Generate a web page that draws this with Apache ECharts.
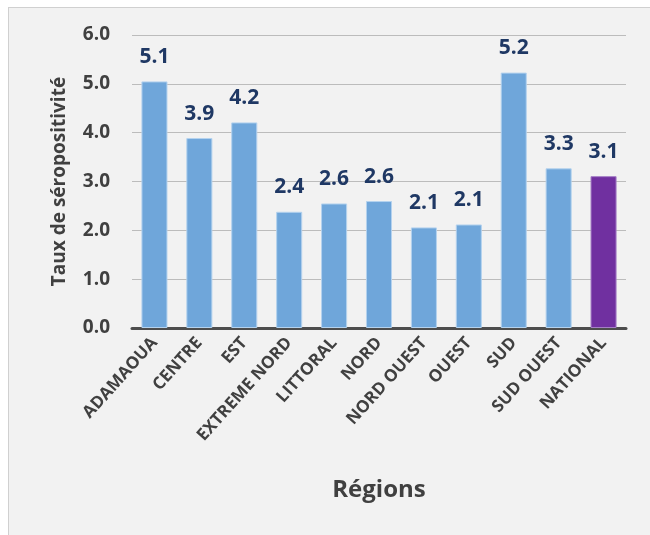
<!DOCTYPE html>
<html>
<head>
<meta charset="utf-8">
<script src="https://cdn.jsdelivr.net/npm/echarts@6/dist/echarts.min.js"></script>
<style>
  html, body { margin: 0; padding: 0; background: #fff; overflow: hidden; }
  .box {
    position: absolute;
    left: 8px;
    top: 7px;
    width: 660px;
    height: 540px;
    background: #f2f2f2;
    border: 1px solid #d0d0d0;
  }
  #chart { width: 642px; height: 528px; }
</style>
</head>
<body>
<div class="box"><div id="chart"></div></div>
<script>
// régions
const regions = ['ADAMAOUA', 'CENTRE', 'EST', 'EXTREME NORD', 'LITTORAL', 'NORD', 'NORD OUEST', 'OUEST', 'SUD', 'SUD OUEST', 'NATIONAL']
// taux de séropositivité (hauteur des barres)
const taux = [5.05, 3.89, 4.21, 2.38, 2.55, 2.60, 2.06, 2.12, 5.23, 3.27, 3.11]
// étiquettes affichées au-dessus des barres
const etiquettes = ['5.1', '3.9', '4.2', '2.4', '2.6', '2.6', '2.1', '2.1', '5.2', '3.3', '3.1']

const font = '"Open Sans", sans-serif'
const grisTexte = '#404040'

let myChart = echarts.init(document.getElementById('chart'))
myChart.setOption({
  backgroundColor: '#f2f2f2',
  animation: false,
  grid: {
    left: 123,
    right: 25,
    top: 27,
    bottom: 208
  },
  xAxis: {
    type: 'category',
    data: regions,
    name: 'Régions',
    nameLocation: 'middle',
    nameGap: 150,
    nameTextStyle: {
      color: grisTexte,
      fontFamily: font,
      fontWeight: 'bold',
      fontSize: 24
    },
    axisTick: { show: false },
    axisLine: {
      lineStyle: { color: '#4d4d4d', width: 3 }
    },
    axisLabel: {
      interval: 0,
      rotate: 48,
      margin: 12,
      color: grisTexte,
      fontFamily: font,
      fontWeight: 'bold',
      fontSize: 17
    }
  },
  yAxis: {
    type: 'value',
    min: 0,
    max: 6,
    interval: 1,
    name: 'Taux de séropositivité',
    nameLocation: 'middle',
    nameGap: 63,
    nameTextStyle: {
      color: grisTexte,
      fontFamily: font,
      fontWeight: 'bold',
      fontSize: 19
    },
    axisLine: { show: false },
    axisTick: { show: false },
    axisLabel: {
      margin: 22,
      color: grisTexte,
      fontFamily: font,
      fontWeight: 'bold',
      fontSize: 19,
      formatter: v => v.toFixed(1)
    },
    splitLine: {
      lineStyle: { color: '#bcbcbc', width: 1 }
    }
  },
  series: [
    {
      type: 'bar',
      data: taux.map((v, i) => ({
        value: v,
        itemStyle: i === regions.length - 1
          ? { color: '#7030a0', borderColor: '#a57fc6', borderWidth: 1 }
          : { color: '#6fa6da', borderColor: '#b4d2ee', borderWidth: 1 }
      })),
      barCategoryGap: '42%',
      label: {
        show: true,
        position: 'top',
        distance: 14,
        color: '#1f3864',
        fontFamily: font,
        fontWeight: 'bold',
        fontSize: 21,
        formatter: p => etiquettes[p.dataIndex]
      }
    }
  ]
})
</script>
</body>
</html>
